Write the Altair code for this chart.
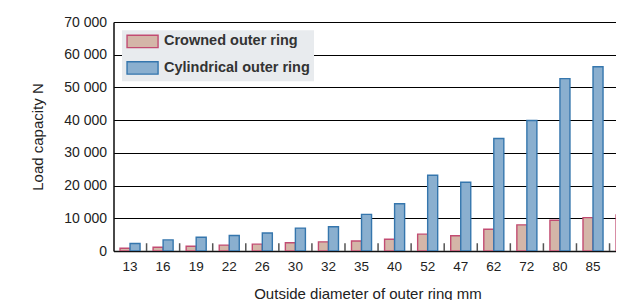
import altair as alt
import pandas as pd

categories = ["13", "16", "19", "22", "26", "30", "32", "35", "40", "52", "47", "62", "72", "80", "85", "90"]
crowned = [830, 1130, 1440, 1800, 2100, 2500, 2800, 3070, 3600, 5150, 4650, 6650, 8000, 9400, 10200, 11050]
cylindrical = [2300, 3400, 4200, 4750, 5500, 7000, 7400, 11200, 14450, 23150, 21000, 34400, 39900, 52700, 56300, 60000]
series = ["Crowned outer ring", "Cylindrical outer ring"]

rows = []
for c, a, b in zip(categories, crowned, cylindrical):
    rows.append({"d": c, "s": series[0], "v": a})
    rows.append({"d": c, "s": series[1], "v": b})
df = pd.DataFrame(rows)
ticks_df = pd.DataFrame({"d": categories[1:], "y0": 0, "y1": 2400})

STEP = 33.07
FULL = STEP * len(categories)
LEFT = 105.5
W = 608 - LEFT
H = 229
FONT = "Liberation Sans"

xscale = alt.Scale(domain=categories, paddingInner=0, paddingOuter=0, range=[0, FULL])
yscale = alt.Scale(domain=[0, 70000], nice=False)

xaxis = alt.Axis(title="Outside diameter of outer ring mm", labelAngle=0, ticks=False,
                 labelFontSize=13.5, labelColor="#222", labelPadding=8,
                 domainColor="#111", domainWidth=1.5,
                 titleFontSize=15, titleFontWeight="normal", titleColor="#222",
                 titleX=254, titleY=42, titleAlign="center", titleBaseline="middle")
yaxis = alt.Axis(title="Load capacity N", values=list(range(0, 70001, 10000)), ticks=False,
                 labelExpr="replace(format(datum.value, ','), ',', ' ')",
                 labelOverlap=False,
                 labelFontSize=14, labelColor="#222", labelPadding=7,
                 domainColor="#111", domainWidth=1.5,
                 grid=True, gridColor="#000", gridWidth=1,
                 titleFontSize=15, titleFontWeight="normal", titleColor="#222",
                 titleX=-76, titleY=H / 2, titleAngle=270, titleAlign="center",
                 titleBaseline="middle")

bars = alt.Chart(df).mark_bar(strokeWidth=1.4, clip=True).encode(
    x=alt.X("d:N", scale=xscale, sort=categories, axis=xaxis),
    xOffset=alt.XOffset("s:N", scale=alt.Scale(domain=series, paddingInner=0, paddingOuter=0.65)),
    y=alt.Y("v:Q", scale=yscale, axis=yaxis),
    fill=alt.Fill("s:N", scale=alt.Scale(domain=series, range=["#d4b6a8", "#8aafcf"]),
                  legend=alt.Legend(title=None, orient="none", legendX=8.5, legendY=8.2,
                                    symbolType="M-1,-1H4V1H-1Z", symbolSize=154,
                                    symbolStrokeWidth=1.4, labelOffset=23.5,
                                    labelFontSize=14.5, labelFontWeight="bold",
                                    labelColor="#333", labelFont=FONT, fillColor="#e8ebee",
                                    padding=4, rowPadding=7.5)),
    stroke=alt.Stroke("s:N", scale=alt.Scale(domain=series, range=["#c24c72", "#3576ad"]), legend=None),
)

tickmarks = alt.Chart(ticks_df).mark_rule(xOffset=-STEP / 2, color="#555", strokeWidth=1.5, clip=True).encode(
    x=alt.X("d:N", scale=xscale, sort=categories, axis=xaxis),
    y=alt.Y("y0:Q", scale=yscale, axis=yaxis),
    y2="y1:Q",
)

chart = alt.layer(bars, tickmarks).properties(
    width=W, height=H,
    autosize=alt.AutoSizeParams(type="none"),
    padding={"left": LEFT, "top": 14, "right": 0, "bottom": 50},
    background="white",
).configure_view(
    fill="#e8ebee", stroke=None
).configure(font=FONT)

chart.save("out.html", embed_options={"renderer": "svg", "actions": False})
